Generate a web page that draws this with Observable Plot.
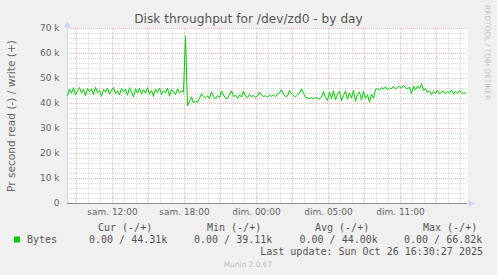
<!DOCTYPE html>
<html><head><meta charset="utf-8">
<script src="https://cdn.jsdelivr.net/npm/d3@7"></script>
<script src="https://cdn.jsdelivr.net/npm/@observablehq/plot@0.6"></script>
<style>
html,body{margin:0;padding:0;background:#f0f0f0;}
#wrap{position:relative;width:497px;height:275px;overflow:hidden;}
</style></head><body><div id="wrap"></div>
<script>
// graph window: hours since Saturday 00:00 (real elapsed hours)
const windowStartHour = 8.25;
const windowEndHour = 41.5833;
const sampleStepHours = 1 / 6; // 10-minute samples
// write throughput, in k bytes/s
const writeK = [
  43.2, 45.8, 44.1, 46.3, 43.5, 45.0, 46.4, 44.2, 45.6, 43.1,
  46.0, 44.8, 45.9, 43.6, 46.5, 44.3, 45.2, 42.9, 45.7, 44.6,
  46.2, 43.8, 45.3, 46.4, 44.0, 45.1, 43.4, 46.1, 44.7, 45.8,
  43.3, 46.3, 44.5, 42.6, 45.9, 44.2, 46.0, 43.7, 45.5, 44.1,
  46.4, 43.9, 45.2, 42.8, 45.8, 44.4, 46.2, 43.6, 45.0, 44.3,
  46.1, 42.9, 45.6, 44.8, 43.5, 45.9, 44.2, 45.1, 44.6,
  66.8, 39.1,
  40.8, 42.6, 40.2, 41.0, 40.4, 42.1, 43.9, 42.8, 42.3, 43.1,
  42.0, 44.6, 42.9, 41.8, 43.2, 42.5, 45.0, 43.4, 42.2, 41.9,
  43.7, 45.1, 42.8, 43.3, 42.1, 43.5, 42.6, 44.9, 43.0, 42.4,
  43.6,
  42.7, 43.2, 42.5, 43.0, 44.6, 43.4, 42.8, 43.1, 42.6, 43.3,
  42.9, 43.5, 42.7, 43.8, 44.3, 45.5, 43.6, 42.8, 43.0, 45.2,
  44.0, 43.1, 42.7, 43.4, 44.2, 45.9, 44.1, 42.6, 42.2, 42.0,
  42.3, 41.9, 42.4, 42.1, 41.8, 42.5, 44.8, 42.3, 41.2, 44.6,
  42.0, 45.1, 41.5, 43.8, 44.9, 41.0, 43.2, 45.0, 41.7, 44.3,
  42.2, 45.2, 40.9, 43.6, 44.7, 41.4, 44.9, 42.0, 43.5, 40.5,
  43.8, 42.1,
  45.6, 46.0, 45.3, 46.4, 45.8, 46.7, 45.5, 46.2, 45.9, 46.8,
  45.7, 46.5, 46.9, 46.1, 47.2, 46.3, 45.8, 46.6, 44.0, 46.9,
  45.4, 47.0, 45.9, 47.9,
  45.2, 46.0, 44.3, 45.1, 43.6, 44.8, 44.0, 45.3, 43.8, 44.6,
  45.0, 43.9, 44.7, 44.2, 45.4, 43.7, 44.9, 44.1, 45.2, 44.5,
  44.0, 44.3
];
const yTicks = [0, 10000, 20000, 30000, 40000, 50000, 60000, 70000];
const yTickLabels = ["0", "10 k", "20 k", "30 k", "40 k", "50 k", "60 k", "70 k"];
const xTickHours = [12, 18, 24, 30, 36];
const xTickLabels = ["sam. 12:00", "sam. 18:00", "dim. 00:00", "dim. 05:00", "dim. 11:00"];
const titleText = "Disk throughput for /dev/zd0 - by day";
const yLabelText = "Pr second read (-) / write (+)";
const seriesName = "Bytes";
const legendHeaders = ["Cur (-/+)", "Min (-/+)", "Avg (-/+)", "Max (-/+)"];
const legendValues = ["0.00 / 44.31k", "0.00 / 39.11k", "0.00 / 44.00k", "0.00 / 66.82k"];
const lastUpdateText = "Last update: Sun Oct 26 16:30:27 2025";
const watermarkText = "RRDTOOL / TOBI OETIKER";
const footerText = "Munin 2.0.67";

const data = writeK.map((v, i) => ({h: windowStartHour + i * sampleStepHours, v: v * 1000}));
const minorX = d3.range(9, 42, 1);
const majorX = d3.range(9, 42, 3);
const minorY = d3.range(0, 70001, 2000);
const majorY = yTicks;

const GREEN = "#00cc00";
const chart = Plot.plot({
  width: 497, height: 275,
  marginLeft: 67, marginRight: 30, marginTop: 28, marginBottom: 72,
  style: {background: "transparent", fontFamily: "DejaVu Sans", fontSize: "9px", color: "#666", overflow: "visible"},
  x: {domain: [windowStartHour, windowEndHour], axis: null},
  y: {domain: [0, 70000], axis: null},
  marks: [
    Plot.frame({fill: "white", stroke: "none"}),
    Plot.ruleX(minorX, {stroke: "#d8d8d8", strokeDasharray: "1,1"}),
    Plot.ruleY(minorY, {stroke: "#d8d8d8", strokeDasharray: "1,1"}),
    Plot.ruleX(majorX, {stroke: "#ecb8b8", strokeDasharray: "1,1"}),
    Plot.ruleY(majorY, {stroke: "#ecb8b8", strokeDasharray: "1,1"}),
    Plot.axisY({ticks: yTicks, tickFormat: d => yTickLabels[yTicks.indexOf(d)], tickSize: 0, tickPadding: 8, label: null, fill: "#666"}),
    Plot.axisX({ticks: xTickHours, tickFormat: d => xTickLabels[xTickHours.indexOf(d)], tickSize: 0, tickPadding: 5, label: null, fill: "#666"}),
    Plot.ruleX([windowStartHour], {stroke: "#cfd6f8"}),
    Plot.ruleY([0], {stroke: "#8d8da0"}),
    Plot.lineY(data, {x: "h", y: "v", stroke: GREEN, strokeWidth: 1}),
    Plot.dot([[windowStartHour, 70000]], {x: d => d[0], y: d => d[1], symbol: "triangle", r: 2.6, fill: "#cfd6f8", stroke: "none", dy: -3}),
    Plot.dot([[windowEndHour, 0]], {x: d => d[0], y: d => d[1], symbol: "triangle", r: 2.6, fill: "#cfd6f8", stroke: "none", rotate: 90, dx: 3})
  ]
});
document.getElementById("wrap").appendChild(chart);

const svg = d3.select(chart);
const txt = (x, y, s, o = {}) => svg.append("text")
  .attr("x", x).attr("y", y).text(s)
  .attr("font-family", o.family || "DejaVu Sans")
  .attr("font-size", o.size || 10)
  .attr("fill", o.fill || "#555")
  .attr("text-anchor", o.anchor || "start")
  .attr("transform", o.transform || null);

txt(248.5, 23, titleText, {size: 12.2, anchor: "middle", fill: "#555"});
txt(0, 0, yLabelText, {size: 10.6, anchor: "middle", fill: "#666", transform: "translate(15,116) rotate(-90)"});
txt(0, 0, watermarkText, {size: 7.4, fill: "#c4c4c4", transform: "translate(485,5) rotate(90)"});

const mono = {family: "DejaVu Sans Mono", size: 10, fill: "#555"};
const headerX = [98, 207, 315, 423];
const valueX = [89, 194, 299.5, 404];
legendHeaders.forEach((s, i) => txt(headerX[i], 230.5, s, mono));
svg.append("rect").attr("x", 14).attr("y", 236.5).attr("width", 6).attr("height", 6).attr("fill", GREEN);
txt(27, 243, seriesName, mono);
legendValues.forEach((s, i) => txt(valueX[i], 243, s, mono));
txt(483, 254.5, lastUpdateText, {...mono, anchor: "end"});
txt(248, 267, footerText, {size: 7.4, anchor: "middle", fill: "#bbb"});
</script>
</body></html>
